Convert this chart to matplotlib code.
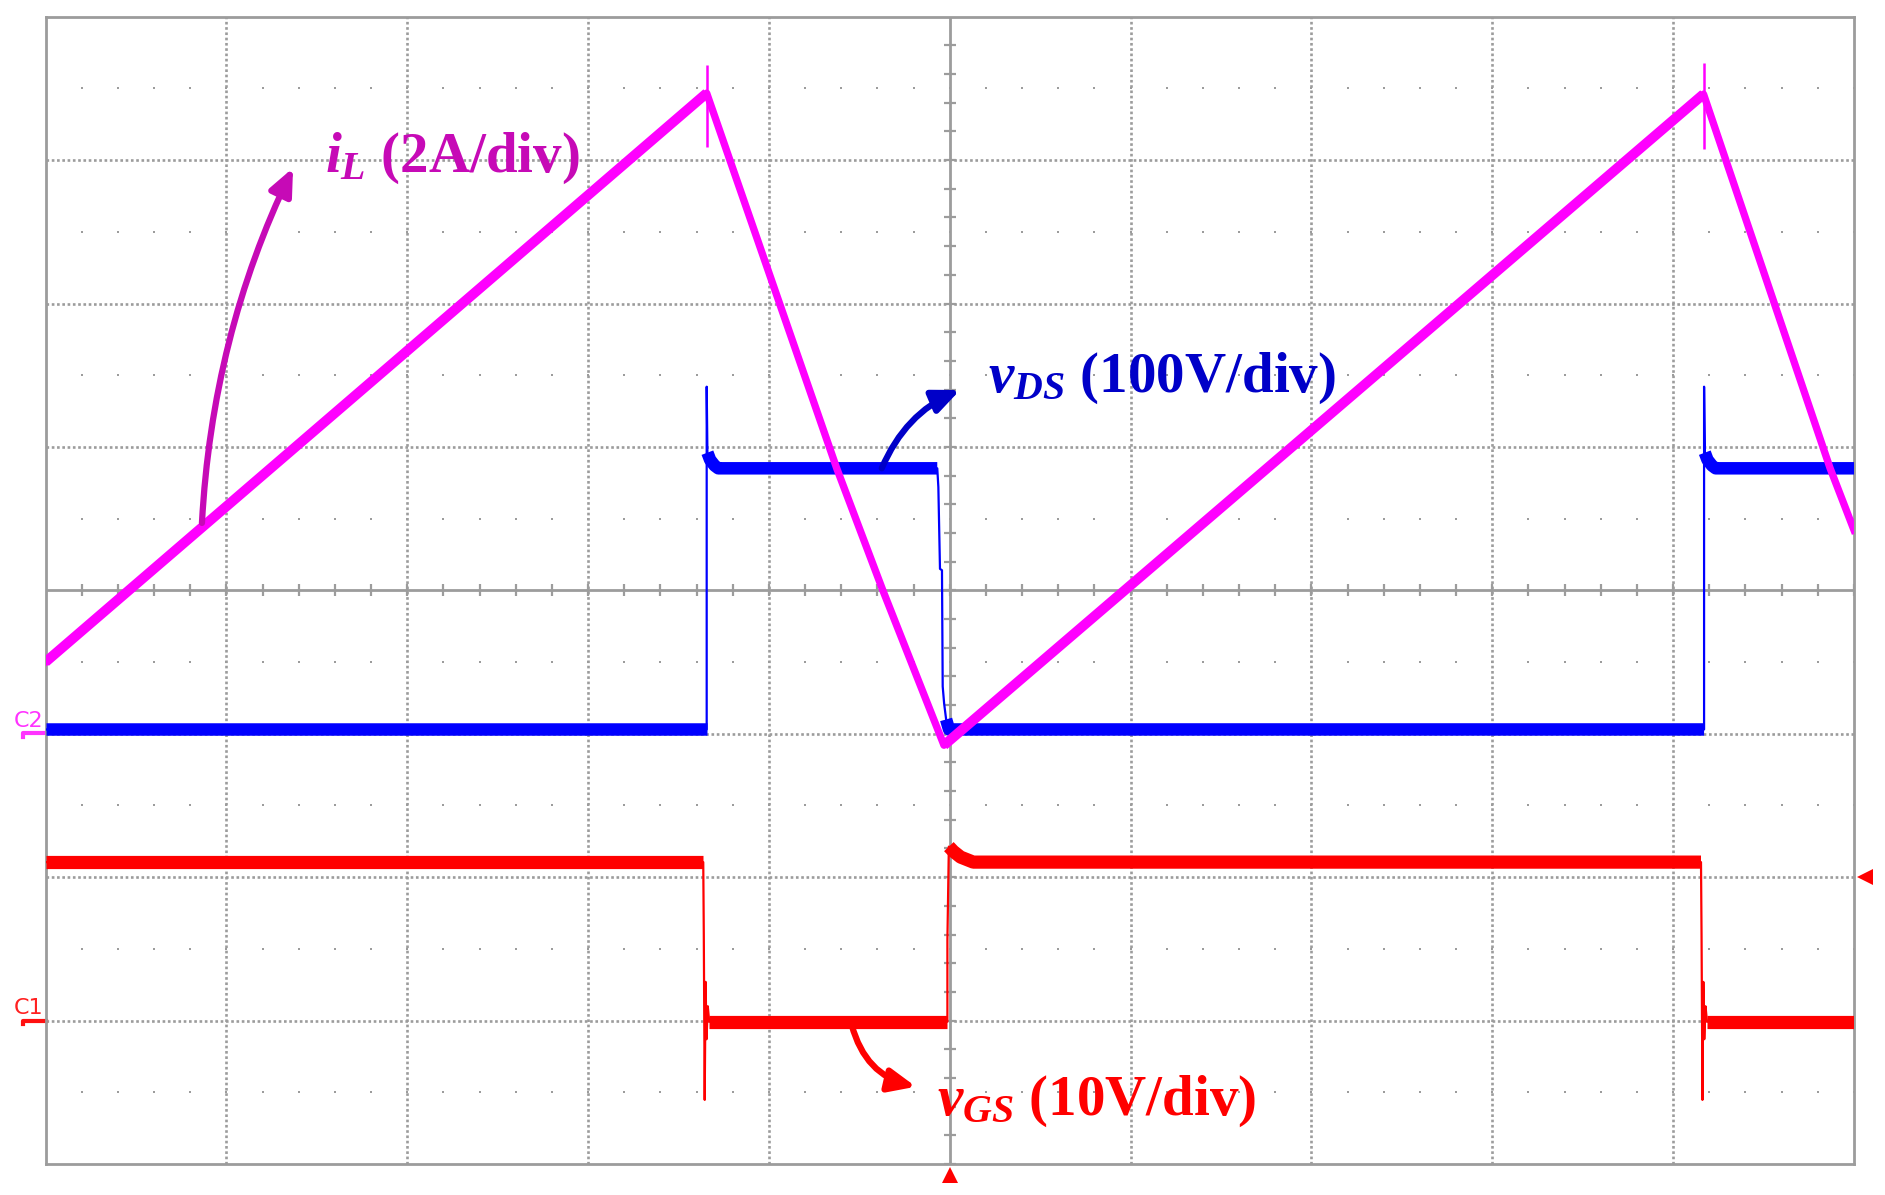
import numpy as np
import matplotlib.pyplot as plt

# screen units: 10 x 8 divisions, y = 0 on the centre line
# inductor current i_L (magenta)
il_t = [0.0, 3.656, 4.375, 4.63, 4.968, 9.168, 9.868, 10.0]
il_v = [-0.50, 3.467, 0.851, 0.0, -1.08, 3.46, 0.851, 0.42]
il_spike_t = [3.656, 9.168]
il_spike_lo = [3.094, 3.08]
il_spike_hi = [3.664, 3.68]

# drain-source voltage v_DS (blue)
vds_t = [0.0, 3.656, 3.656, 3.660, 3.675, 3.700, 3.720, 4.931, 4.937, 4.946,
         4.957, 4.961, 4.969, 4.980, 4.996, 9.171, 9.171, 9.175, 9.190, 9.215,
         9.235, 10.0]
vds_v = [-0.97, -0.97, 1.42, 0.96, 0.91, 0.87, 0.851, 0.851, 0.72, 0.15,
         0.14, -0.67, -0.79, -0.90, -0.97, -0.97, 1.42, 0.96, 0.91, 0.87,
         0.851, 0.851]

# gate-source voltage v_GS (red)
vgs_t = [0.0, 3.637, 3.640, 3.645, 3.650, 3.655, 3.662, 3.670, 4.987, 4.987,
         4.995, 5.02, 5.06, 5.13, 9.154, 9.157, 9.162, 9.167, 9.172, 9.179,
         9.187, 10.0]
vgs_v = [-1.895, -1.895, -2.40, -3.553, -2.73, -3.13, -2.90, -3.008, -3.008,
         -2.437, -1.787, -1.82, -1.86, -1.895, -1.895, -2.40, -3.553, -2.73,
         -3.13, -2.90, -3.008, -3.008]

# channel ground markers and trigger level
c2_level = -0.997
c1_level = -3.0
trig_level = -2.0
trig_time = 5.0

plt.rcParams['mathtext.fontset'] = 'custom'
plt.rcParams['mathtext.it'] = 'Liberation Serif:italic:bold'
plt.rcParams['mathtext.rm'] = 'Liberation Serif:bold'
plt.rcParams['mathtext.bf'] = 'Liberation Serif:bold'

fig = plt.figure(figsize=(18.85, 11.95), dpi=100)
ax = fig.add_axes([45.5 / 1885, 31 / 1195, 1808.5 / 1885, 1147.3 / 1195])
ax.set_xlim(0, 10)
ax.set_ylim(-4, 4)
ax.set_xticks([])
ax.set_yticks([])
grid_c = '#9c9c9c'
for s in ax.spines.values():
    s.set_color(grid_c)
    s.set_linewidth(2)

# graticule
for x in range(1, 10):
    if x != 5:
        ax.axvline(x, color=grid_c, lw=1.9, ls=(0, (1, 1)), zorder=1)
for y in range(-3, 4):
    if y != 0:
        ax.axhline(y, color=grid_c, lw=1.9, ls=(0, (1, 1)), zorder=1)
ax.axhline(0, color=grid_c, lw=2, zorder=1)
ax.axvline(5, color=grid_c, lw=2, zorder=1)
xs = np.arange(0, 10.001, 0.2)
ys = np.arange(-4, 4.001, 0.2)
ax.plot(xs, np.zeros_like(xs), ls='none', marker='|', ms=8, mew=1.6, color=grid_c, zorder=1)
ax.plot(np.full_like(ys, 5), ys, ls='none', marker='_', ms=8, mew=1.6, color=grid_c, zorder=1)
for y in np.arange(-3.5, 4, 1.0):
    ax.plot(xs, np.full_like(xs, y), ls='none', marker='s', ms=2.0, mew=0, color=grid_c, zorder=1)


def draw_trace(t, v, color, band_lw, edge_lw, z):
    t = np.asarray(t)
    v = np.asarray(v)
    ax.plot(t, v, color=color, lw=edge_lw, zorder=z)
    flat = np.diff(t) > 0.012
    i, n = 0, len(flat)
    while i < n:
        if flat[i]:
            j = i
            while j < n and flat[j]:
                j += 1
            ax.plot(t[i:j + 1], v[i:j + 1], color=color, lw=band_lw,
                    solid_capstyle='butt', zorder=z)
            i = j
        else:
            i += 1


draw_trace(vgs_t, vgs_v, '#ff0000', 9.5, 1.6, 3)
draw_trace(vds_t, vds_v, '#0000ff', 9.0, 1.6, 4)

# i_L: the rising ramps carry more noise, so they look wider than the falls
il_t_a = np.asarray(il_t)
il_v_a = np.asarray(il_v)
ax.plot(il_t_a, il_v_a, color='#ff00ff', lw=5.3, zorder=5)
for k in range(len(il_t) - 1):
    if il_v_a[k + 1] > il_v_a[k]:
        ax.plot(il_t_a[k:k + 2], il_v_a[k:k + 2], color='#ff00ff', lw=7.2,
                solid_capstyle='butt', zorder=5)
ax.vlines(il_spike_t, il_spike_lo, il_spike_hi, color='#ff00ff', lw=1.8, zorder=5)

# labels and arrows
il_c, vds_c, vgs_c = '#c60ab6', '#0000c8', '#ff0000'
txt = dict(family='Liberation Serif', weight='bold', fontsize=41,
           ha='left', va='baseline', zorder=6)
ax.text(1.545, 2.92, r'$i_L$ (2A/div)', color=il_c, **txt)
ax.text(5.212, 1.386, r'$v_{DS}$ (100V/div)', color=vds_c, **txt)
ax.text(4.93, -3.658, r'$v_{GS}$ (10V/div)', color=vgs_c, **txt)

arrow_style = '-|>,head_length=0.8,head_width=0.35'
for tail, head, rad, c in [((0.865, 0.47), (1.369, 2.946), -0.1, il_c),
                           ((4.624, 0.851), (5.057, 1.397), -0.2, vds_c),
                           ((4.458, -3.031), (4.813, -3.461), 0.3, vgs_c)]:
    ax.annotate('', xy=head, xytext=tail, zorder=6,
                arrowprops=dict(arrowstyle=arrow_style, lw=4.5, color=c,
                                connectionstyle=f'arc3,rad={rad}',
                                shrinkA=0, shrinkB=0, mutation_scale=20,
                                capstyle='round'))

# channel markers outside the graticule
ax.text(-0.014, c2_level + 0.044, 'C2', ha='right', va='baseline', fontsize=16,
        color='#ff33ff', clip_on=False)
ax.plot([-0.125, -0.125, 0], [c2_level - 0.025, c2_level, c2_level],
        color='#ff33ff', lw=3, clip_on=False)
ax.text(-0.014, c1_level + 0.046, 'C1', ha='right', va='baseline', fontsize=16,
        color='#ff2020', clip_on=False)
ax.plot([-0.125, -0.125, 0], [c1_level - 0.025, c1_level, c1_level],
        color='#ff1010', lw=3, clip_on=False)
ax.plot([trig_time], [-4.077], marker='^', ms=11.5, mew=0, color='#ff0000', clip_on=False)
ax.plot([10.061], [trig_level], marker='<', ms=12, mew=0, color='#ff0000', clip_on=False)

fig.savefig('out.png', dpi=100, facecolor='white')
